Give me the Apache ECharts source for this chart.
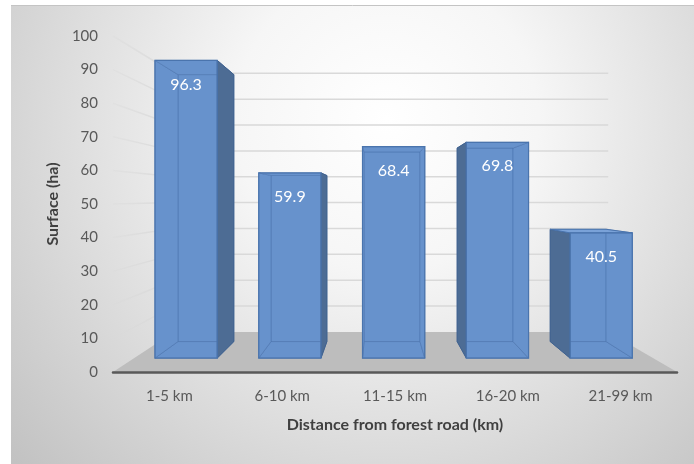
<!DOCTYPE html>
<html lang="en">
<head>
    <meta charset="UTF-8">
    <title>Surface by distance from forest road</title>
    <style>
        html, body { margin: 0; padding: 0; background: #fff; }
        #chart { width: 694px; height: 464px; }
    </style>
</head>
<body>
    <div id="chart"></div>
</body>
</html>
<script src="https://cdn.jsdelivr.net/npm/echarts@6/dist/echarts.min.js"></script>
<script>
// chart data
const categories = ['1-5 km', '6-10 km', '11-15 km', '16-20 km', '21-99 km'];
const surface = [96.3, 59.9, 68.4, 69.8, 40.5];
const yTicks = [0, 10, 20, 30, 40, 50, 60, 70, 80, 90, 100];

// fake 3D: everything is projected towards a vanishing point
const VP = [378, 198];
const S_FRONT = 0.92;   // front face of bars
const S_BACK = 0.825;   // back face of bars
const S_WALL = 0.77;    // back wall

function proj(x, y, s) {
    return [VP[0] + (x - VP[0]) * s, VP[1] + (y - VP[1]) * s];
}

function renderWall(params, api) {
    let t = api.value(1);
    let band = api.size([1, 0])[0];
    let first = api.coord([0, t]);
    let last = api.coord([categories.length - 1, t]);
    let xL = first[0] - band / 2, xR = last[0] + band / 2, y = first[1];
    if (t === 0) {
        return {
            type: 'polygon',
            shape: { points: [[xL, y], [xR, y], proj(xR, y, S_WALL), proj(xL, y, S_WALL)] },
            style: { fill: '#bdbdbd' }
        };
    }
    let bl = proj(xL, y, S_WALL), br = proj(xR, y, S_WALL);
    return {
        type: 'group',
        children: [{
            type: 'line',
            shape: { x1: xL, y1: y, x2: bl[0], y2: bl[1] },
            style: {
                stroke: new echarts.graphic.LinearGradient(0, 0, 1, 0, [
                    { offset: 0, color: 'rgba(217,217,217,0.3)' },
                    { offset: 1, color: 'rgba(217,217,217,1)' }
                ]),
                lineWidth: 1.5
            }
        }, {
            type: 'line',
            shape: { x1: bl[0], y1: bl[1], x2: br[0], y2: br[1] },
            style: { stroke: '#d9d9d9', lineWidth: 1.5 }
        }]
    };
}

function renderBar(params, api) {
    let i = api.value(0), v = api.value(1);
    let base = api.coord([i, 0]);
    let top = api.coord([i, v]);
    let w = api.size([1, 0])[0] * 0.6;
    let x0 = base[0] - w / 2, x1 = base[0] + w / 2;
    let y0 = base[1], y1 = top[1];
    let box = function (s) {
        return [proj(x0, y1, s), proj(x1, y1, s), proj(x1, y0, s), proj(x0, y0, s)];
    };
    let f = box(S_FRONT), b = box(S_BACK);
    let faces = {
        back: b,
        bottom: [f[3], f[2], b[2], b[3]],
        top: [f[0], f[1], b[1], b[0]],
        left: [f[0], b[0], b[3], f[3]],
        right: [f[1], b[1], b[2], f[2]]
    };
    let hidden = { fill: '#6792cc', stroke: 'rgba(60,100,160,0.55)', lineWidth: 1 };
    let shown = { fill: '#4d6c94', stroke: '#41628e', lineWidth: 1 };
    let poly = function (pts, style) {
        return { type: 'polygon', shape: { points: pts }, style: style };
    };
    let visLeft = x0 > VP[0], visRight = x1 < VP[0], visTop = y1 > VP[1];
    let children = [poly(faces.back, hidden), poly(faces.bottom, hidden)];
    if (!visLeft) children.push(poly(faces.left, hidden));
    if (!visRight) children.push(poly(faces.right, hidden));
    if (!visTop) children.push(poly(faces.top, hidden));
    if (visLeft) children.push(poly(faces.left, shown));
    if (visRight) children.push(poly(faces.right, shown));
    if (visTop) children.push(poly(faces.top, { fill: '#7aa2d8', stroke: '#4a74ad', lineWidth: 1 }));
    children.push(poly(f, { fill: 'rgba(103,146,204,0.35)', stroke: '#4a74ad', lineWidth: 1.2 }));
    children.push({
        type: 'text',
        style: {
            x: (f[0][0] + f[1][0]) / 2,
            y: f[0][1] + 24,
            text: String(v),
            fill: '#ffffff',
            font: '16px Lato',
            align: 'center',
            verticalAlign: 'middle'
        }
    });
    return { type: 'group', children: children };
}

var myChart = echarts.init(document.getElementById('chart'));
let option = {
    animation: false,
    backgroundColor: '#ffffff',
    textStyle: { fontFamily: 'Lato' },
    graphic: [{
        type: 'rect',
        z: -10,
        silent: true,
        shape: { x: 11, y: 5, width: 683, height: 459 },
        style: {
            fill: new echarts.graphic.RadialGradient(0.55, 0.25, 1.1, [
                { offset: 0, color: '#ffffff' },
                { offset: 0.3, color: '#f6f6f6' },
                { offset: 1, color: '#c2c2c2' }
            ])
        }
    }, {
        type: 'line',
        z: -9,
        silent: true,
        shape: { x1: 11, y1: 5.5, x2: 694, y2: 5.5 },
        style: { stroke: '#c4c4c4', lineWidth: 1 }
    }],
    grid: { left: 113, right: 17, top: 36, bottom: 92 },
    xAxis: {
        type: 'category',
        data: categories,
        z: 4,
        axisLine: { lineStyle: { color: '#595959', width: 2.5 } },
        axisTick: { show: false },
        axisLabel: { color: '#595959', fontSize: 15, margin: 17 },
        name: 'Distance from forest road (km)',
        nameLocation: 'middle',
        nameGap: 45,
        nameTextStyle: { color: '#404040', fontSize: 16, fontWeight: 'bold' }
    },
    yAxis: {
        type: 'value',
        min: 0,
        max: 100,
        interval: 10,
        axisLine: { show: false },
        axisTick: { show: false },
        splitLine: { show: false },
        axisLabel: { color: '#595959', fontSize: 15, margin: 15 },
        name: 'Surface (ha)',
        nameLocation: 'middle',
        nameRotate: 90,
        nameGap: 50,
        nameTextStyle: { color: '#404040', fontSize: 16, fontWeight: 'bold' }
    },
    series: [{
        type: 'custom',
        name: 'walls',
        z: 1,
        silent: true,
        clip: false,
        renderItem: renderWall,
        data: yTicks.map(function (t) { return [0, t]; })
    }, {
        type: 'custom',
        name: 'Surface',
        z: 3,
        clip: false,
        renderItem: renderBar,
        data: surface.map(function (v, i) { return [i, v]; })
    }]
};
myChart.setOption(option);
</script>
